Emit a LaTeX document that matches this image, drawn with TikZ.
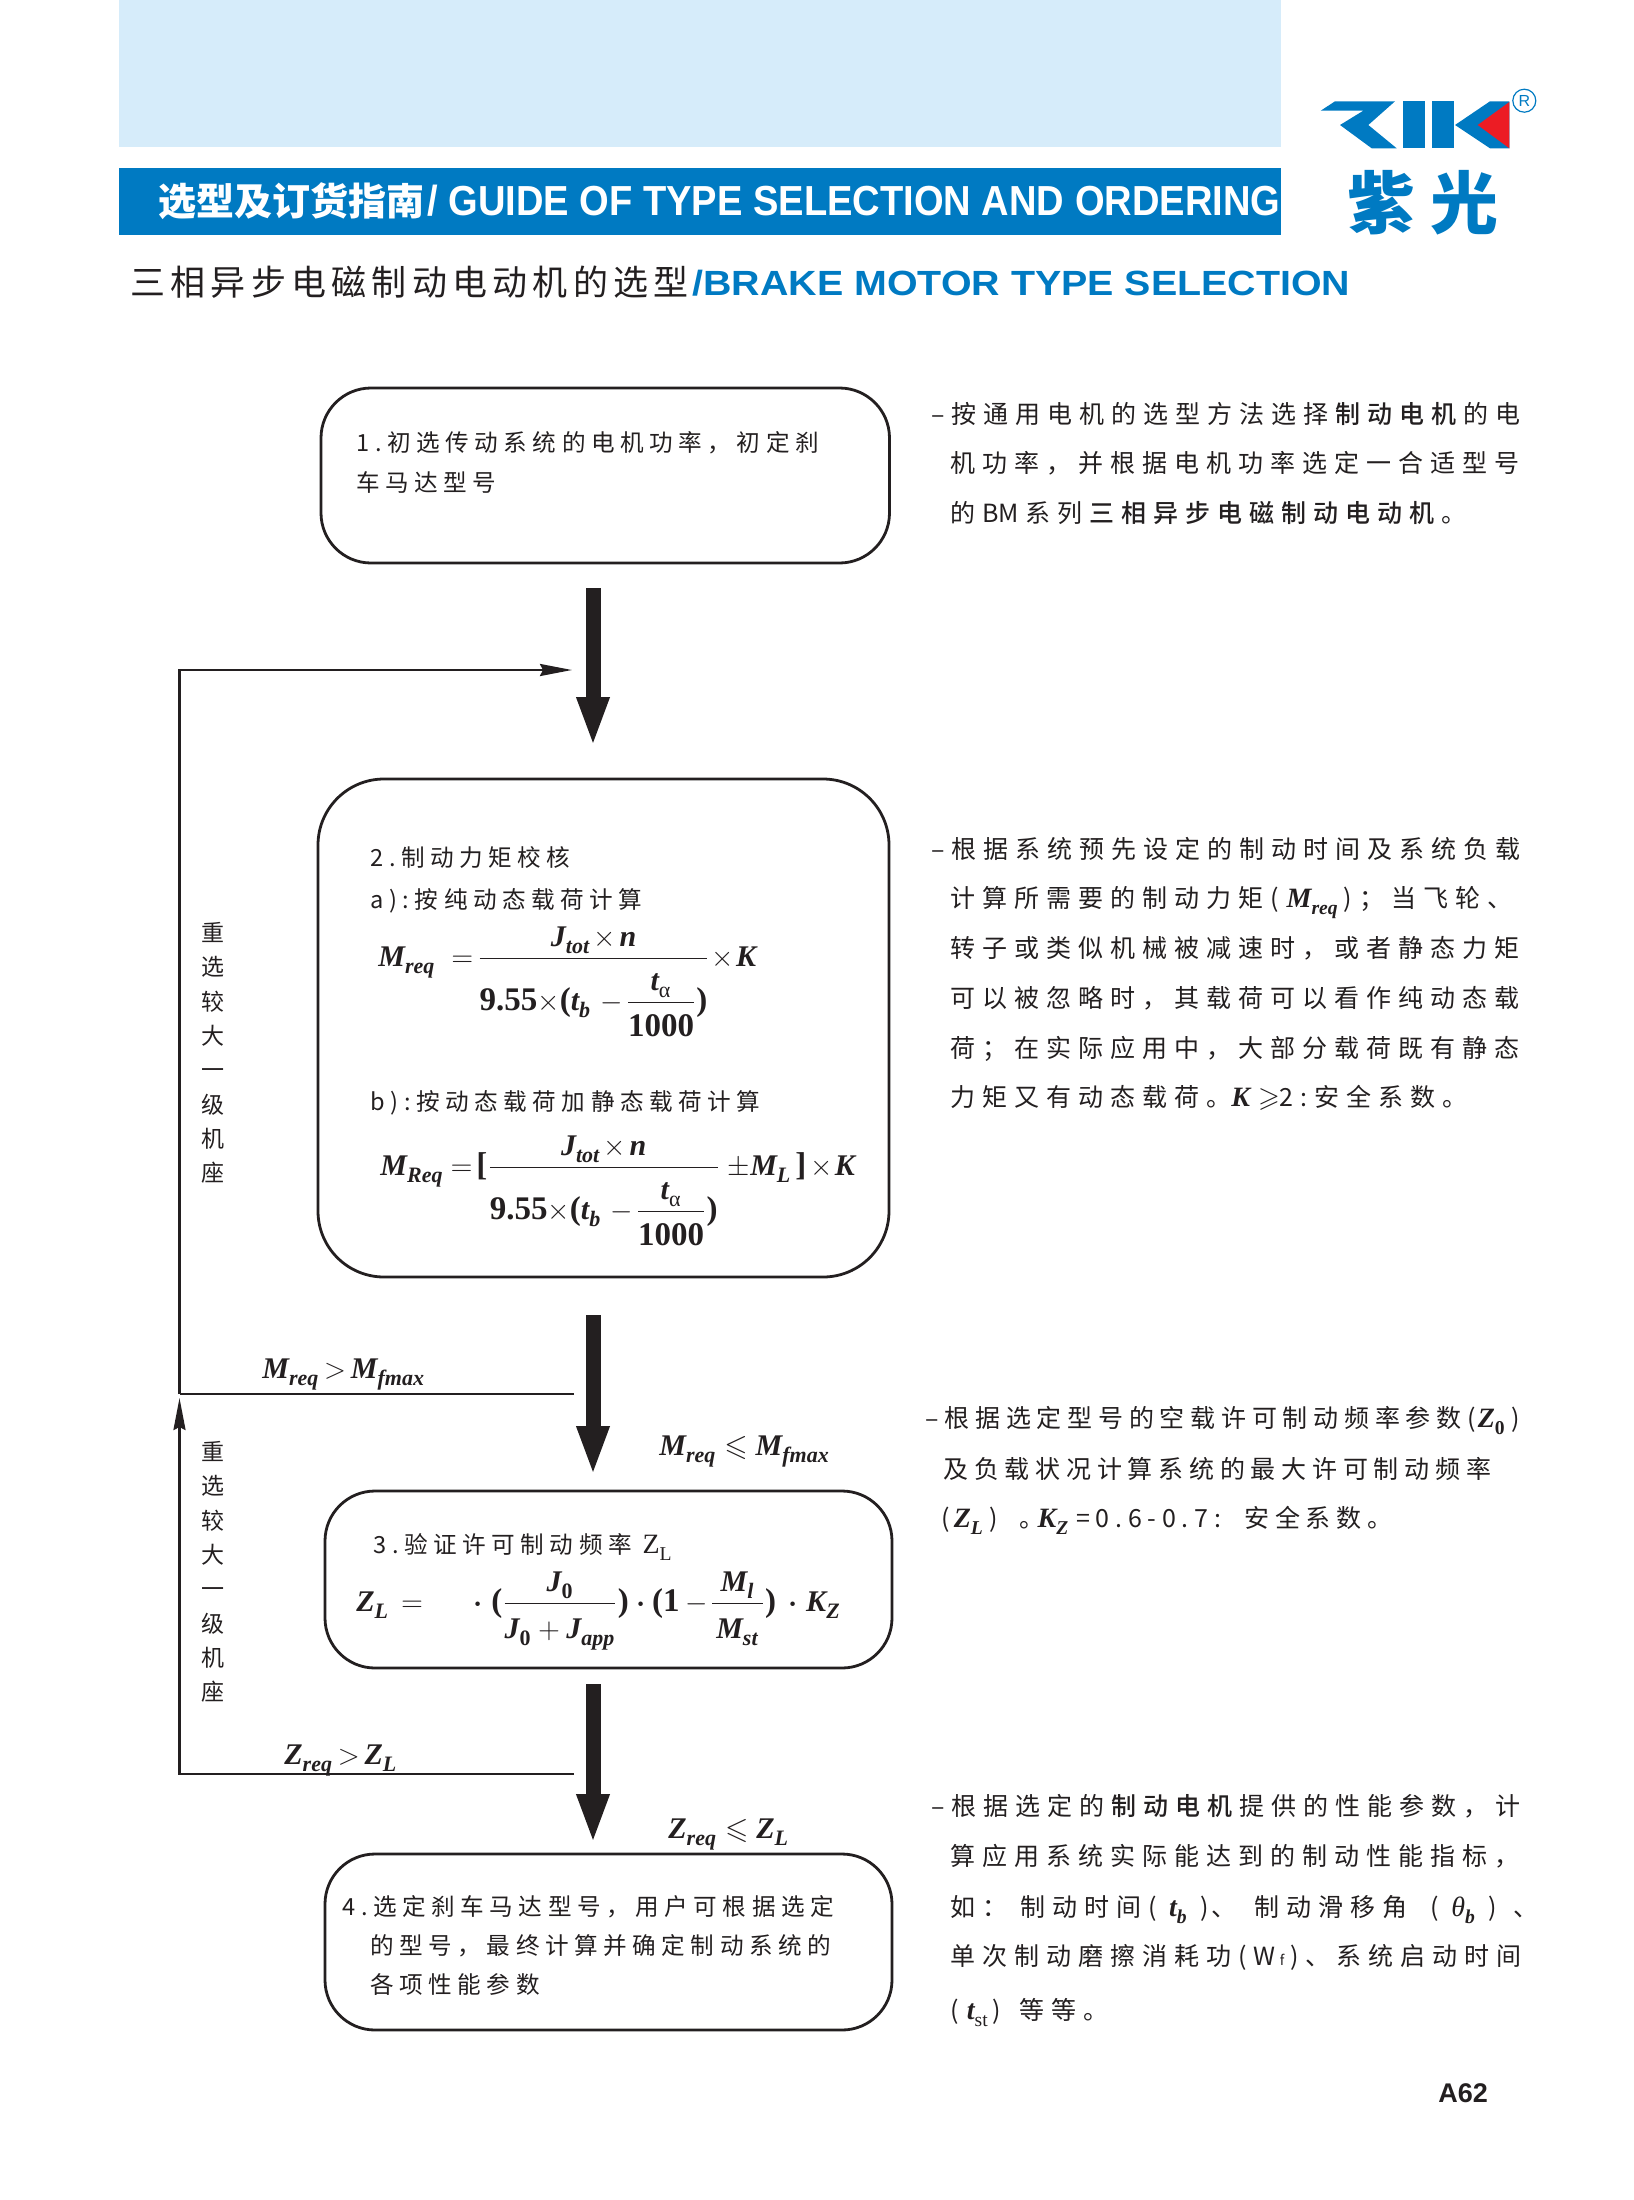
\documentclass[tikz,border=0pt]{standalone}
\usepackage{amsmath,amssymb}
\usepackage{fontspec}
\usepackage{tikz}
\usetikzlibrary{arrows.meta}
\usetikzlibrary{positioning}

\newfontfamily\cjkplain{Noto Sans CJK SC}
\newfontfamily\cjkbox[LetterSpace=23.5]{Noto Sans CJK SC}
\newfontfamily\cjkside[LetterSpace=28,BoldFont={Noto Sans CJK SC Medium}]{Noto Sans CJK SC}
\newfontfamily\cjksidec[LetterSpace=23]{Noto Sans CJK SC}
\newfontfamily\cjktitle[LetterSpace=15]{Noto Sans CJK SC}
\newfontfamily\cjklogo[LetterSpace=22]{Noto Sans CJK SC}
\newfontfamily\timesf{Liberation Serif}
\newfontfamily\arialf{Liberation Sans}
\newfontfamily\arialwide[FakeStretch=1.125]{Liberation Sans}
\newfontfamily\arialnarrow[FakeStretch=0.907]{Liberation Sans}

\definecolor{paleblue}{RGB}{214,236,250}
\definecolor{zikblue}{RGB}{0,122,194}
\definecolor{zikred}{RGB}{236,28,36}
\definecolor{inkdark}{RGB}{35,31,32}

\DeclareMathSizes{15}{15}{11}{8}
\everymath{\fontdimen16\textfont2=3.6pt }

% letters of the formulas
\newcommand{\bi}[1]{\text{\timesf\bfseries\itshape #1}}
\newcommand{\bn}[1]{\text{\timesf\bfseries #1}}
\newcommand{\bnn}[1]{\text{\timesf\bfseries\fontsize{16.5}{20}\selectfont #1}}
\newcommand{\rn}[1]{\text{\timesf #1}}
\newcommand{\ri}[1]{\text{\timesf\itshape #1}}
\newcommand{\ml}[1]{{\fontsize{14}{16}\selectfont$#1$}}
\newcommand{\dt}{{\boldsymbol{\cdot}}}
\newcommand{\hl}[1]{\hspace{3.4pt}{\bfseries #1}\hspace{3.4pt}}
% the fraction that both formulas of box 2 share
\newcommand{\torquefrac}{\dfrac{\bi{J}_{\bi{tot}}\hspace{1.5pt}{\times}\hspace{2pt}\bi{n}}{\rule{0pt}{23.5pt}\bnn{9.55}{\times}\bnn{(}\bi{t}_{\bi{b}}\hspace{4.5pt}{-}\hspace{1.5pt}\dfrac{\bi{t}_{\rn{α}}}{\rule{0pt}{14.5pt}\bnn{1000}}\bnn{)}}}

\tikzset{
  stepbox/.style={draw=inkdark,line width=1.4pt,rounded corners=25pt,inner sep=0pt},
  boxtext/.style={anchor=base west,inner sep=0pt,text=inkdark,font=\fontsize{11.8}{14}\cjkbox},
  sidetext/.style={anchor=base west,inner sep=0pt,text=inkdark,font=\fontsize{12.5}{14}\cjkside},
  sidetextc/.style={anchor=base west,inner sep=0pt,text=inkdark,font=\fontsize{12.5}{14}\cjksidec},
  retrytext/.style={inner sep=0pt,text=inkdark,align=center,font=\fontsize{11.5}{17.15}\cjkplain},
  formula/.style={anchor=base west,inner sep=0pt,text=inkdark,font=\fontsize{15}{18}\selectfont},
  bigarrow/.style={draw=inkdark,line width=7.5pt,-{Triangle[length=25pt,width=14.8pt]}},
  thinline/.style={draw=inkdark,line width=1.25pt},
  thinarrow/.style={thinline,-{Stealth[length=16pt,width=6pt,inset=1.5pt]}}
}

\begin{document}
\begin{tikzpicture}[x=0.5pt,y=0.5pt,yscale=-1,xscale=1]
  \useasboundingbox (0,0) rectangle (1633,2200);

  % Page head
  \fill [paleblue] (119,0) rectangle (1281,147);
  \fill [zikblue] (119,168) rectangle (1281,235);
  \draw (158,215) node (headcn) [anchor=base west,inner sep=0pt,text=white,font=\fontsize{19}{20}\cjkplain\bfseries] {选型及订货指南};
  \draw (427,215) node (headen) [anchor=base west,inner sep=0pt,text=white,font=\fontsize{21}{24}\arialnarrow\bfseries] {/ GUIDE OF TYPE SELECTION AND ORDERING};
  \draw (130,295) node (titlecn) [anchor=base west,inner sep=0pt,text=inkdark,font=\fontsize{17.5}{20}\cjktitle] {三相异步电磁制动电动机的选型};
  \draw (692,295) node (titleen) [anchor=base west,inner sep=0pt,text=zikblue,font=\fontsize{17.5}{20}\arialwide\bfseries] {/BRAKE MOTOR TYPE SELECTION};

  % Logo
  \fill [zikblue] (1320.7,110.7) -- (1335,101.3) -- (1395,101.3) -- (1368.3,125) -- (1396.7,148.3) -- (1371.7,148.3) -- (1340,125) -- (1363.3,110.7) -- cycle;
  \fill [zikblue] (1402.7,101.3) rectangle (1424.7,148.3);
  \fill [zikblue] (1432.3,101.3) rectangle (1454,148.3);
  \fill [zikblue] (1455,125) -- (1490,101.3) -- (1509.3,101.3) -- (1509.3,148.3) -- (1490,148.3) -- cycle;
  \fill [zikred] (1509.3,102) -- (1477.7,125) -- (1509.3,148.3) -- cycle;
  \draw (1524.3,100.7) node (logomark) [circle,draw=zikblue,line width=0.6pt,minimum size=11.5pt,inner sep=0pt,text=zikblue,font=\fontsize{8}{8}\arialf] {R};
  \draw (1347,228) node (logocn) [anchor=base west,inner sep=0pt,text=zikblue,font=\fontsize{34}{36}\cjklogo\bfseries] {紫光};

  % Step boxes
  \node (stepa) [stepbox,minimum width=284.25pt,minimum height=87.5pt] at (605.25,475.5) {};
  \node (stepb) [stepbox,minimum width=285.5pt,minimum height=249pt,rounded corners=33pt] at (603.5,1028) {};
  \node (stepc) [stepbox,minimum width=283.5pt,minimum height=88.5pt] at (608.5,1579.5) {};
  \node (stepd) [stepbox,minimum width=283.5pt,minimum height=88pt] at (608.5,1942) {};

  % Text of box 1
  \draw (356,451) node (stepaone) [boxtext] {1.初选传动系统的电机功率，初定刹};
  \draw (356,491) node (stepatwo) [boxtext] {车马达型号};

  % Text of box 2
  \draw (370,866) node (stepbone) [boxtext] {2.制动力矩校核};
  \draw (370,908) node (stepbtwo) [boxtext] {a):按纯动态载荷计算};
  \draw (370,1110) node (stepbthree) [boxtext] {b):按动态载荷加静态载荷计算};
  \draw (378,966) node (stepbfa) [formula] {$\bi{M}_{\bi{req}}\hspace{8pt}{=}\hspace{2pt}\torquefrac\hspace{1pt}{\times}\hspace{1pt}\bi{K}$};
  \draw (380,1175) node (stepbfb) [formula] {$\bi{M}_{\bi{Req}}\hspace{3.5pt}{=}\hspace{2pt}\bnn{[}\torquefrac\hspace{4pt}{\pm}\bi{M}_{\bi{L}}\hspace{2pt}\bnn{]}\hspace{2pt}{\times}\hspace{1pt}\bi{K}$};

  % Text of box 3
  \draw (373,1553) node (stepcone) [boxtext] {3.验证许可制动频率 {\fontsize{14}{16}\selectfont$\rn{Z}_{\rn{L}}$}};
  \draw (356,1611) node (stepcf) [formula] {$\bi{Z}_{\bi{L}}\hspace{6pt}{=}\hspace{25pt}\dt\hspace{4.5pt}\bnn{(}\dfrac{\bi{J}_{\bn{0}}}{\rule{0pt}{15.3pt}\bi{J}_{\bn{0}}+\bi{J}_{\bi{app}}}\bnn{)}\hspace{4pt}\dt\hspace{3pt}\bnn{(}\bnn{1}\hspace{3pt}{-}\hspace{1pt}\dfrac{\bi{M}_{\bi{l}}}{\rule{0pt}{15.3pt}\hspace{2pt}\bi{M}_{\bi{st}}\hspace{2pt}}\bnn{)}\hspace{6pt}\dt\hspace{4.5pt}\bi{K}_{\bi{Z}}$};

  % Text of box 4
  \draw (342,1915) node (stepdone) [boxtext] {4.选定刹车马达型号，用户可根据选定};
  \draw (370,1954) node (stepdtwo) [boxtext] {的型号，最终计算并确定制动系统的};
  \draw (370,1993) node (stepdthree) [boxtext] {各项性能参数};

  % Thick arrows
  \coordinate (arrowatop) at (593,588);
  \coordinate (arrowatip) at (593,747);
  \coordinate (arrowbtop) at (593,1315);
  \coordinate (arrowbtip) at (593,1476);
  \coordinate (arrowctop) at (593,1684);
  \coordinate (arrowctip) at (593,1844);
  \draw [bigarrow] (arrowatop) -- (arrowatip);
  \draw [bigarrow] (arrowbtop) -- (arrowbtip);
  \draw [bigarrow] (arrowctop) -- (arrowctip);

  % Feedback lines
  \coordinate (loopstart) at (574,1394);
  \coordinate (loopcorner) at (179.5,1394);
  \coordinate (looptop) at (179.5,670);
  \coordinate (loopend) at (572,670);
  \coordinate (lowstart) at (574,1774);
  \coordinate (lowcorner) at (179.5,1774);
  \coordinate (lowend) at (179.5,1398);
  \draw [thinline] (loopstart) -- (loopcorner);
  \draw [thinarrow] (loopcorner) -- (looptop) -- (loopend);
  \draw [thinarrow] (lowstart) -- (lowcorner) -- (lowend);

  % Label the feedback lines
  \draw (213,1053) node (retrya) [retrytext] {重\\选\\较\\大\\一\\级\\机\\座};
  \draw (213,1572) node (retryb) [retrytext] {重\\选\\较\\大\\一\\级\\机\\座};
  \draw (262,1378) node (condagt) [formula] {$\bi{M}_{\bi{req}}\,{>}\,\bi{M}_{\bi{fmax}}$};
  \draw (659,1455) node (condale) [formula] {$\bi{M}_{\bi{req}}\leqslant\bi{M}_{\bi{fmax}}$};
  \draw (284,1764) node (condbgt) [formula] {$\bi{Z}_{\bi{req}}\,{>}\,\bi{Z}_{\bi{L}}$};
  \draw (668,1838) node (condble) [formula] {$\bi{Z}_{\bi{req}}\leqslant\bi{Z}_{\bi{L}}$};

  % Notes on the right
  \draw (931,423) node (noteaone) [sidetext] {–按通用电机的选型方法选择\hl{制动电机}的电};
  \draw (950,472) node (noteatwo) [sidetext] {机功率，并根据电机功率选定一合适型号};
  \draw (950,522) node (noteathree) [sidetext] {的\hspace{3.4pt}{\cjkplain BM}\hspace{3.4pt}系列\hl{三相异步电磁制动电动机}。};

  \draw (931,858) node (notebone) [sidetext] {–根据系统预先设定的制动时间及系统负载};
  \draw (950,907) node (notebtwo) [sidetext] {计算所需要的制动力矩\hspace{3.4pt}(\hspace{4pt}\ml{\bi{M}_{\bi{req}}}\hspace{2.5pt})；当飞轮、};
  \draw (950,957) node (notebthree) [sidetext] {转子或类似机械被减速时，或者静态力矩};
  \draw (950,1007) node (notebfour) [sidetext] {可以被忽略时，其载荷可以看作纯动态载};
  \draw (950,1057) node (notebfive) [sidetext] {荷；在实际应用中，大部分载荷既有静态};
  \draw (950,1106) node (notebsix) [sidetext] {力矩又有动态载荷。\ml{\bi{K}\geqslant}2:安全系数。};

  \draw (925,1427) node (notecone) [sidetextc] {–根据选定型号的空载许可制动频率参数(\hspace{1pt}\ml{\bi{Z}_{\bn{0}}}\hspace{3pt})};
  \draw (943,1478) node (notectwo) [sidetextc] {及负载状况计算系统的最大许可制动频率};
  \draw (941,1527) node (notecthree) [sidetextc] {(\hspace{2pt}\ml{\bi{Z}_{\bi{L}}}\hspace{3pt})\hspace{5pt} 。\hspace{-3.5pt}\ml{\bi{K}_{\bi{Z}}}\hspace{3.5pt}=0.6-0.7:\hspace{4pt} 安全系数。};

  \draw (931,1815) node (notedone) [sidetext] {–根据选定的\hl{制动电机}提供的性能参数，计};
  \draw (950,1865) node (notedtwo) [sidetext] {算应用系统实际能达到的制动性能指标，};
  \draw (950,1916) node (notedthree) [sidetext] {如： 制动时间( \ml{\bi{t}_{\bi{b}}} )\hspace{1.5pt}、 \hspace{2.5pt}制动滑移角\hspace{5.2pt} ( \ml{\ri{θ}_{\bi{b}}} )\hspace{2pt} 、};
  \draw (950,1965) node (notedfour) [sidetext] {单次制动磨擦消耗功(W\hspace{2pt}{\fontsize{7}{8}\selectfont f}\hspace{3pt})、\hspace{3pt}系统启动时间};
  \draw (950,2019) node (notedfive) [sidetext] {(\hspace{4pt}\ml{\bi{t}_{\rn{st}}}\,)\hspace{3pt} 等等。};

  % Page number
  \draw (1438,2102) node (pagenum) [anchor=base west,inner sep=0pt,text=inkdark,font=\fontsize{13.5}{14}\arialf\bfseries] {A62};

\end{tikzpicture}
\end{document}
